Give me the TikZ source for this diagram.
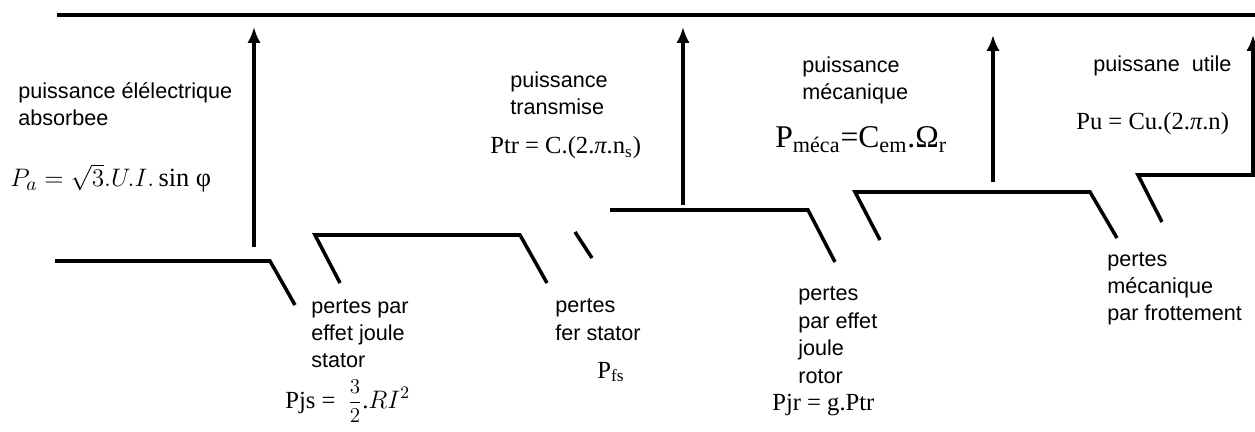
\documentclass[tikz,border=0pt]{standalone}
\usepackage{fontspec}
\setmainfont{Liberation Serif}
\setsansfont{Liberation Sans}
\usetikzlibrary{arrows.meta}

\begin{document}
\begin{tikzpicture}[
            x=0.02cm,y=-0.02cm,
            every node/.style={inner sep=0pt,anchor=base west},
            txt/.style={font=\sffamily\fontsize{12.3}{15.6}\selectfont,align=left},
            eq/.style={font=\fontsize{14}{16}\selectfont},
            bigeq/.style={font=\fontsize{18}{20}\selectfont},
            flow/.style={line width=2pt},
            up/.style={flow,-{Latex[length=9pt,width=7.5pt]}}
        ]
    \useasboundingbox (0,0) rectangle (1255,432);
    % Levels
        \draw[flow] (57,15) -- (1255,15);
        \draw[flow] (55,261) -- (270,261) -- (295,305);
        \draw[flow] (340,283) -- (315,235) -- (520,235) -- (547,283);
        \draw[flow] (575,232) -- (592,258);
        \draw[flow] (610,210) -- (808,210) -- (835,262);
        \draw[flow] (880,240) -- (855,192) -- (1090,192) -- (1117,238);
        \draw[flow] (1162,222) -- (1138,175) -- (1255,175);
    % Arrows
    \foreach\x/\ya/\yb in {254/247/27,683/205/27,993/182/35,1253/175/35}{
        \draw[up] (\x,\ya) -- (\x,\yb);
    }
    % Labels (base = last line)
        \node[txt] (pa) at (18,126) {puissance élélectrique\\absorbee};
        \node[eq,font=\fontsize{15}{17}\selectfont] (paeq) at (10,187) {$P_{a} = \sqrt{3}.U.I.\sin$ φ};
        \node[txt] (pjs) at (311,368) {pertes par\\effet joule\\stator};
        \node[eq] (pjseq) at (285,408) {Pjs =\ \ {\fontsize{12.5}{14}\selectfont$\displaystyle\frac{3}{2}$}.$RI^{2}$};
        \node[txt] (ptr) at (510,115) {puissance\\transmise};
        \node[eq] (ptreq) at (490,154) {Ptr = C.(2.\textit{π}.n\textsubscript{s})};
        \node[txt] (pfs) at (555,340) {pertes\\fer stator};
        \node[eq] (pfseq) at (597,378) {P\textsubscript{fs}};
        \node[txt] (pmeca) at (802,100) {puissance\\mécanique};
        \node[bigeq] (pmecaeq) at (775,148) {P\textsubscript{méca}=C\textsubscript{em}.Ω\textsubscript{r}};
        \node[txt] (pjr) at (798,383) {pertes\\par effet\\joule\\rotor};
        \node[eq] (pjreq) at (772,411) {Pjr = g.Ptr};
        \node[txt] (pu) at (1093,72) {puissane\ \ utile};
        \node[eq] (pueq) at (1076,130) {Pu = Cu.(2.\textit{π}.n)};
        \node[txt] (pm) at (1107,321) {pertes\\mécanique\\par frottement};
    \end{tikzpicture}
\end{document}
